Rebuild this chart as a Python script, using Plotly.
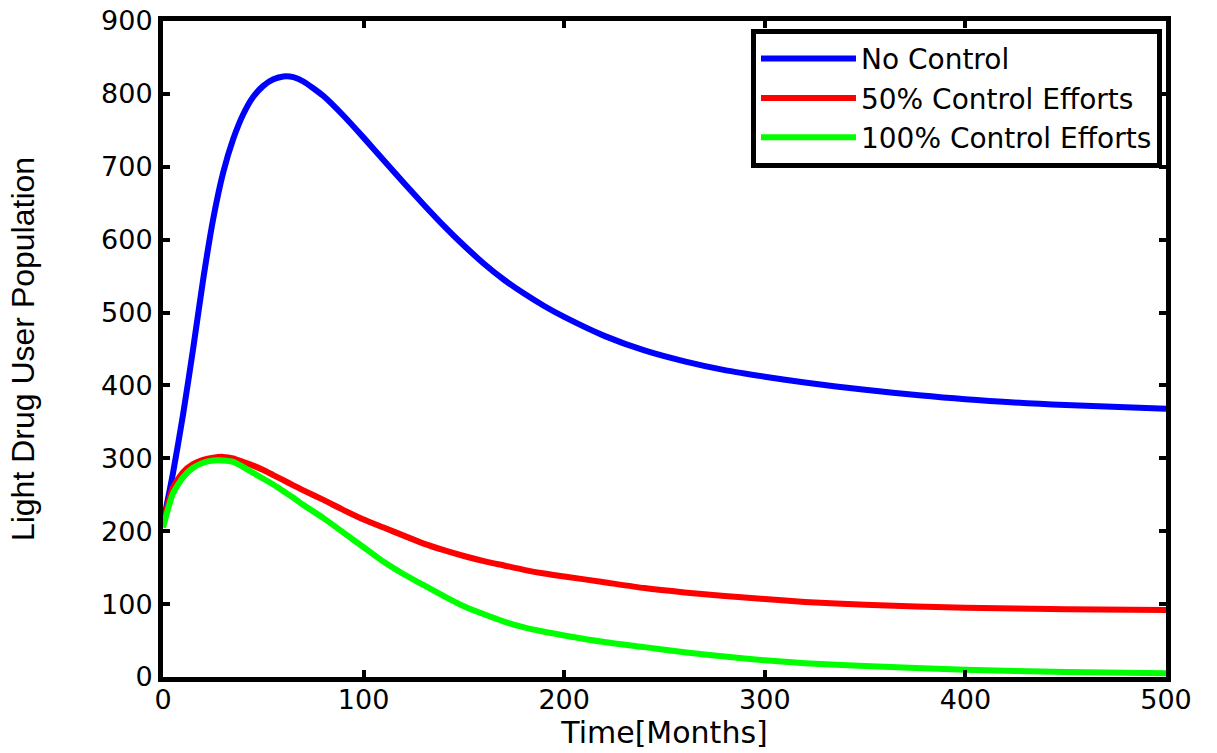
import plotly.graph_objects as go

# Time in months
t = [0, 5, 10, 15, 20, 25, 30, 35, 40, 45, 50, 55, 60, 65, 70, 80, 90, 100, 110, 120,
     130, 140, 150, 160, 170, 180, 190, 200, 220, 240, 260, 280, 300, 320, 350, 400, 450, 500]

no_control = [210, 280, 360, 450, 545, 628, 692, 738, 772, 796, 811, 820, 824, 823, 817, 797, 770, 740, 709, 678,
              648, 619, 592, 567, 545, 526, 509, 494, 468, 448, 433, 421, 412, 404, 394, 381, 373, 368]

control_50 = [210, 260, 281, 292, 298, 301, 302, 300, 295, 290, 284, 277, 270, 263, 256, 243, 229, 216, 205, 194,
              183, 174, 166, 159, 153, 147, 142, 138, 130, 122, 116, 111, 107, 103, 99, 95, 93, 92]

control_100 = [205, 252, 274, 287, 294, 297, 297, 295, 288, 280, 272, 264, 255, 246, 236, 218, 198, 178, 158, 141,
               126, 111, 97, 86, 76, 68, 62, 57, 48, 41, 34, 28, 23, 19, 15, 10, 7, 5]

series_names = ["No Control", "50% Control Efforts", "100% Control Efforts"]
series_colors = ["#0000ff", "#ff0000", "#00ff00"]

tick_vals_x = [0, 100, 200, 300, 400, 500]
tick_vals_y = [0, 100, 200, 300, 400, 500, 600, 700, 800, 900]

fig = go.Figure()
for name, vals, col in zip(series_names, [no_control, control_50, control_100], series_colors):
    fig.add_trace(go.Scatter(x=t, y=vals, mode="lines", name=name,
                             line=dict(color=col, width=6, shape="spline", smoothing=0.6)))

tick_font = dict(family="DejaVu Sans, Arial, sans-serif", size=27, color="black")

fig.update_layout(
    width=1217, height=753,
    margin=dict(l=163, r=51, t=21, b=76, autoexpand=False),
    paper_bgcolor="white", plot_bgcolor="white",
    showlegend=True,
    legend=dict(
        x=0.996, y=0.988, xanchor="right", yanchor="top",
        bgcolor="white", bordercolor="black", borderwidth=5,
        font=dict(family="DejaVu Sans, Arial, sans-serif", size=28, color="black"),
        tracegroupgap=0, itemwidth=95,
    ),
    xaxis=dict(
        range=[0, 500], tickvals=tick_vals_x, ticks="inside", ticklen=7, tickwidth=4,
        tickcolor="black", showline=True, linecolor="black", linewidth=5, mirror="ticks",
        showgrid=False, zeroline=False, tickfont=tick_font, automargin=False,
        ticklabeloverflow="allow", ticklabelstandoff=-5,
        title=dict(text="Time[Months]", font=dict(family="DejaVu Sans, Arial, sans-serif", size=30, color="black"),
                   standoff=4),
    ),
    yaxis=dict(
        range=[0, 900], tickvals=tick_vals_y, ticks="inside", ticklen=7, tickwidth=4,
        tickcolor="black", showline=True, linecolor="black", linewidth=5, mirror="ticks",
        showgrid=False, zeroline=False, tickfont=tick_font, automargin=False,
        ticklabeloverflow="allow",
        title=dict(text="Light Drug User Population",
                   font=dict(family="Liberation Sans Narrow, Arial Narrow, sans-serif", size=32, color="black"),
                   standoff=58),
    ),
)

# remove the default 8px page margin so the figure fills the window exactly
fig.write_html("out.html", config={"displayModeBar": False},
               post_script="document.body.style.margin='0px';document.body.style.overflow='hidden';")
